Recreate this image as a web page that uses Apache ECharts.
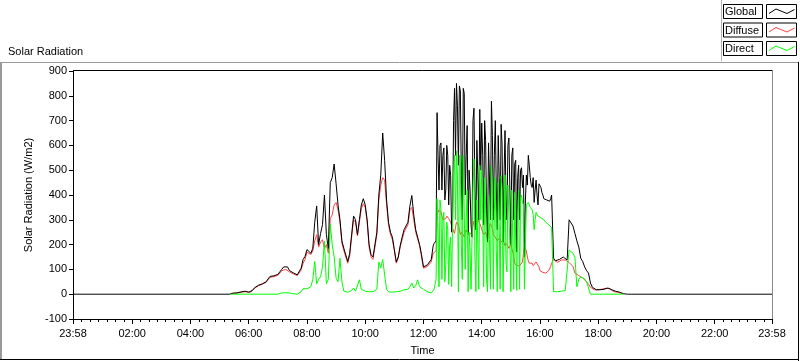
<!DOCTYPE html>
<html><head><meta charset="utf-8">
<script src="https://cdn.jsdelivr.net/npm/echarts@6/dist/echarts.min.js"></script>
<style>html,body{margin:0;padding:0;background:#fff}#c{width:800px;height:361px}</style>
</head><body><div id="c"></div>
<script>
// ---------- data ----------
const seriesNames = ['Global', 'Diffuse', 'Direct'];
const seriesColors = ['#000000', '#ff4040', '#00ff00'];

// time axis (minutes from midnight; 23:58 of the previous day = -2)
const dayStartMinute = -2;
const dayEndMinute = 1438;
const xTickMinutes = [-2, 120, 240, 360, 480, 600, 720, 840, 960, 1080, 1200, 1320, 1438];
const xTickLabels = ['23:58', '02:00', '04:00', '06:00', '08:00', '10:00', '12:00', '14:00', '16:00', '18:00', '20:00', '22:00', '23:58'];

// main samples: every 4 minutes from 05:20
const sampleStartMinute = 320;
const sampleStepMinutes = 4;
// extra in-between samples for the busy midday period: every 4 minutes from 12:22
const detailStartMinute = 742;
const detailStepMinutes = 4;
const nightValue = 0;

const globalValues = [
  0,3,4,5,5,8,9,10,12,11, 8,9,16,26,32,36,38,42,45,50,
  62,72,73,74,75,80,90,100,110,108, 110,95,90,86,80,78,85,105,140,152,
  180,175,165,185,290,356,200,245,280,400, 240,185,450,470,525,445,360,300,215,185,
  158,132,165,240,315,300,240,300,360,385, 360,300,200,160,150,150,250,400,480,650,
  540,380,290,250,230,180,130,150,195,230, 260,265,290,355,398,320,260,230,200,160,
  110,115,118,115,140,195,210,732,420,610, 560,380,600,360,480,300,830,850,520,820,
  300,810,560,245,420,230,750,260,480,745, 690,280,620,210,460,778,300,700,260,470,
  685,210,660,300,630,200,590,525,170,520, 500,430,150,480,560,470,430,370,460,360,
  440,410,385,380,378,375,400,145,135,130,
  140,140,150,142,138,300,298,275,245,215, 190,145,132,110,95,85,45,28,22,18,
  18,18,18,20,24,25,24,18,12,12, 10,8,6,2,0,0,0,0,0
];
const globalDetail = [
  205,215,560,600,420,590,420,560,520,250, 700,560,760,840,480,830,400,680,500,280,
  700,420,620,300,500,560,700,340,610,300, 640,560,420,640,300,600,480,380,600,420,
  560,300,540,470,300,510,480,380,440,520, 440,470,420,400,445,430,400,382,380,375,
  385
];
const diffuseValues = [
  null,3,4,5,5,7,8,9,11,10, 8,8,14,24,30,34,36,40,43,48,
  58,68,70,71,72,76,85,95,103,100, 102,90,85,82,77,75,82,98,125,140,
  170,165,160,175,215,240,190,210,220,185, 200,165,305,320,360,370,340,290,205,175,
  150,125,155,230,300,290,235,290,345,365, 350,290,190,150,140,142,240,380,440,470,
  460,360,280,240,220,175,125,145,190,220, 250,255,280,340,350,300,250,222,195,150,
  105,110,112,112,130,165,170,320,340,330, 300,295,315,305,290,265,245,290,280,240,
  255,230,260,245,240,250,295,280,300,285, 260,240,250,220,275,290,240,230,215,225,
  210,220,195,210,185,200,170,125,115,118, 112,130,195,175,135,120,125,110,130,135,
  95,88,90,85,88,100,125,140,135,128,
  135,138,145,138,132,128,122,112,85,78, 75,72,65,58,50,40,28,20,18,18,
  18,18,20,22,24,25,22,15,10,8, 8,6,4,2,null,null,null,null,null
];
const diffuseDetail = [
  168,175,330,335,315,300,305,310,300,275, 255,270,285,260,250,240,248,250,238,245,
  275,290,290,295,275,250,245,238,250,285, 265,235,222,220,218,212,208,205,195,192,
  185,150,118,116,115,120,165,185,150,125, 122,115,120,132,110,90,88,88,86,95,
  112
];
const directValues = [
  null,0,0,0,0,0,0,0,0,0, 0,0,0,0,0,0,0,0,0,0,
  0,0,0,0,0,0,0,5,8,6, 8,5,6,2,0,0,2,10,22,25,
  22,25,30,60,132,42,60,70,110,214, 42,60,282,200,150,65,50,145,50,12,
  10,8,10,15,25,12,15,58,20,15, 12,10,10,8,10,10,20,130,105,140,
  78,20,10,8,8,8,10,10,12,15, 18,15,20,30,45,25,35,58,30,25,
  20,15,10,8,5,5,40,385,30,345, 300,50,290,40,230,300,560,578,10,540,
  60,555,300,10,170,20,545,10,200,520, 500,30,360,10,220,518,20,470,10,290,
  478,10,480,90,440,10,425,410,15,420, 380,370,20,360,370,350,340,260,330,315,
  312,305,300,290,285,275,268,10,8,10,
  12,12,14,15,18,178,172,165,150,30, 60,70,75,62,50,42,0,0,0,0,
  0,0,0,0,0,0,0,0,0,0, 0,0,0,0,null,null,null,null,null
];
const directDetail = [
  20,60,250,380,60,330,120,260,200,30, 480,300,480,560,200,560,100,420,250,20,
  420,150,380,20,300,320,470,60,400,20, 430,330,180,450,20,430,250,130,440,200,
  420,20,415,300,20,400,360,200,365,360, 345,320,300,322,314,308,302,295,288,280,
  272
];

const yMin = -100, yMax = 900, yStep = 100;

// ---------- build ----------
function toPairs(vals, start, step) {
  return vals.map((v, i) => [start + i * step, v]);
}
function merged(main, detail) {
  return toPairs(main, sampleStartMinute, sampleStepMinutes)
    .concat(toPairs(detail, detailStartMinute, detailStepMinutes))
    .sort((a, b) => a[0] - b[0]);
}
const globalData = [[dayStartMinute, nightValue]].concat(merged(globalValues, globalDetail), [[dayEndMinute, nightValue]]);
const diffuseData = merged(diffuseValues, diffuseDetail);
const directData = merged(directValues, directDetail);

// minor ticks: 7 sub-intervals between labelled ticks
const minorTicks = [];
for (let k = 0; k < xTickMinutes.length - 1; k++) {
  const a = xTickMinutes[k], b = xTickMinutes[k + 1];
  for (let j = 1; j < 7; j++) minorTicks.push(a + (b - a) * j / 7);
}

const FONT = '"Liberation Sans", Arial, sans-serif';
const chart = echarts.init(document.getElementById('c'), null, { renderer: 'canvas' });

// legend + frames drawn as graphic elements
const graphics = [
  { type: 'line', shape: { x1: 0, y1: 62.5, x2: 799, y2: 62.5 }, style: { stroke: '#9a9a9a', lineWidth: 1 } },
  { type: 'line', shape: { x1: 1, y1: 62, x2: 1, y2: 360 }, style: { stroke: '#9a9a9a', lineWidth: 2 } },
  { type: 'line', shape: { x1: 798.5, y1: 62, x2: 798.5, y2: 361 }, style: { stroke: '#000', lineWidth: 1 } },
  { type: 'line', shape: { x1: 0, y1: 359.5, x2: 799, y2: 359.5 }, style: { stroke: '#000', lineWidth: 1 } },
  { type: 'line', shape: { x1: 73, y1: 70.5, x2: 772.5, y2: 70.5 }, style: { stroke: '#000', lineWidth: 1 } },
  { type: 'line', shape: { x1: 772.5, y1: 70.5, x2: 772.5, y2: 321 }, style: { stroke: '#8c8c8c', lineWidth: 1 } },
  { type: 'line', shape: { x1: 721.5, y1: 0, x2: 721.5, y2: 61 }, style: { stroke: '#b4b4b4', lineWidth: 1 } }
];
const rowTops = [4.5, 23, 41.5];
seriesNames.forEach((name, k) => {
  const t = rowTops[k];
  graphics.push(
    { type: 'rect', shape: { x: 723.5, y: t, width: 39, height: 14 }, style: { fill: '#fff', stroke: '#000', lineWidth: 1 } },
    { type: 'text', style: { text: name, x: 725, y: t + 7.5, fill: '#000', font: '11px ' + FONT, align: 'left', verticalAlign: 'middle', textAlign: 'left', textVerticalAlign: 'middle' } },
    { type: 'rect', shape: { x: 766.5, y: t, width: 30, height: 14 }, style: { fill: '#fff', stroke: '#000', lineWidth: 1 } },
    { type: 'polyline', shape: { points: [[769, t + 9], [776, t + 4.5], [787, t + 9], [794.5, t + 5]] }, style: { stroke: seriesColors[k], fill: null, lineWidth: 1 } }
  );
});

function lineSeries(name, data, z) {
  const k = seriesNames.indexOf(name);
  return {
    name, type: 'line', data, xAxisIndex: 0, yAxisIndex: 0,
    showSymbol: false, symbol: 'none', connectNulls: false, z,
    lineStyle: { color: seriesColors[k], width: 1 },
    itemStyle: { color: seriesColors[k] },
    emphasis: { disabled: true }, silent: true
  };
}

chart.setOption({
  animation: false,
  backgroundColor: '#ffffff',
  textStyle: { fontFamily: FONT },
  title: { text: 'Solar Radiation', left: 3, top: 41, textStyle: { fontSize: 11, fontWeight: 'normal', color: '#000', fontFamily: FONT } },
  grid: { left: 73, top: 71, width: 699, height: 250, containLabel: false },
  xAxis: [{
    type: 'value', min: dayStartMinute, max: dayEndMinute, position: 'bottom',
    axisLine: { show: true, onZero: false, lineStyle: { color: '#000', width: 1 } },
    axisTick: { show: true, inside: false, length: 5, customValues: xTickMinutes, lineStyle: { color: '#000', width: 1 } },
    axisLabel: {
      customValues: xTickMinutes, fontSize: 11, color: '#000', fontFamily: FONT, margin: 9,
      formatter: v => { const i = xTickMinutes.indexOf(v); return i >= 0 ? xTickLabels[i] : ''; }
    },
    splitLine: { show: false },
    name: 'Time', nameLocation: 'middle', nameGap: 26,
    nameTextStyle: { fontSize: 11, color: '#000', fontFamily: FONT }
  }, {
    type: 'value', min: dayStartMinute, max: dayEndMinute, position: 'bottom', gridIndex: 0,
    axisLine: { show: false, onZero: false },
    axisTick: { show: true, inside: false, length: 3, customValues: minorTicks, lineStyle: { color: '#000', width: 1 } },
    axisLabel: { show: false },
    splitLine: { show: false }
  }],
  yAxis: {
    type: 'value', min: yMin, max: yMax, interval: yStep,
    axisLine: { show: true, onZero: false, lineStyle: { color: '#000', width: 1 } },
    axisTick: { show: true, inside: false, length: 4, lineStyle: { color: '#000' } },
    axisLabel: { fontSize: 11, color: '#000', fontFamily: FONT, margin: 6 },
    splitLine: { show: false },
    name: 'Solar Radiation (W/m2)', nameLocation: 'middle', nameGap: 31,
    nameTextStyle: { fontSize: 11, color: '#000', fontFamily: FONT }
  },
  graphic: { elements: graphics },
  series: [
    lineSeries('Diffuse', diffuseData, 2),
    lineSeries('Global', globalData, 3),
    lineSeries('Direct', directData, 4)
  ]
});
</script>
</body></html>
